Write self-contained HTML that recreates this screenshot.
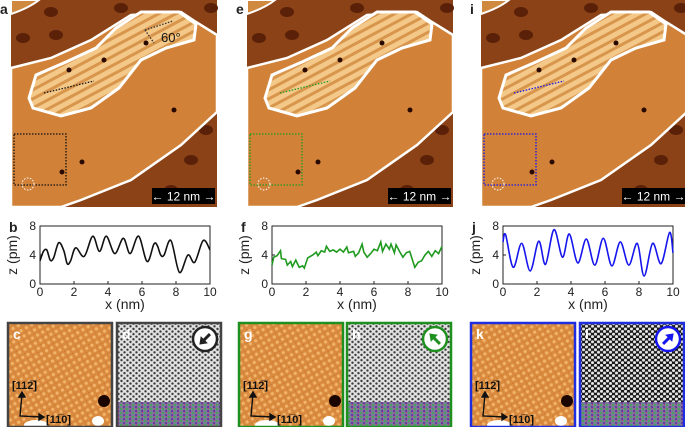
<!DOCTYPE html>
<html><head><meta charset="utf-8">
<style>
body{margin:0;background:#fff;width:685px;height:427px;overflow:hidden;font-family:"Liberation Sans",sans-serif;}
svg{position:absolute;left:0;top:0;}
</style></head>
<body>
<svg id="fig" width="685" height="427" viewBox="0 0 685 427">
<defs>
<pattern id="orangeLat" width="6" height="6" patternUnits="userSpaceOnUse" patternTransform="rotate(-30)">
<rect width="6" height="6" fill="#d98a3e"/><circle cx="3" cy="3" r="1.6" fill="#f2b46a"/><circle cx="0" cy="0" r="1" fill="#b86a28"/></pattern>
<pattern id="greyLat" width="6" height="5.2" patternUnits="userSpaceOnUse">
<rect width="6" height="5.2" fill="#e2e2e2"/><circle cx="1.5" cy="1.3" r="1.2" fill="#3a3a3a"/><circle cx="4.5" cy="3.9" r="1.2" fill="#3a3a3a"/></pattern>
<pattern id="darkLat" width="6" height="5.2" patternUnits="userSpaceOnUse">
<rect width="6" height="5.2" fill="#1a1a1a"/><circle cx="1.5" cy="1.3" r="1.5" fill="#e8e8e8"/><circle cx="4.5" cy="3.9" r="1.5" fill="#e8e8e8"/></pattern>
<pattern id="colorLat" width="6" height="4" patternUnits="userSpaceOnUse">
<rect width="6" height="4" fill="#7a7a9a"/><rect x="0" y="0" width="2" height="2" fill="#4aa05a"/><rect x="3" y="2" width="2" height="2" fill="#6a3aa0"/><rect x="4" y="0" width="1" height="1" fill="#c04060"/></pattern>
<pattern id="islandStripe" width="8" height="8" patternUnits="userSpaceOnUse" patternTransform="rotate(-28)">
<rect width="8" height="8" fill="#f3c888"/><rect width="8" height="3" fill="#d8954c"/></pattern>
</defs>
<g id="images"></g>
<g id="plots"></g>
<g id="insets"></g>
</svg>
<script>
const NS="http://www.w3.org/2000/svg";
const svg=document.getElementById('fig');
function mk(tag,attrs,parent){const e=document.createElementNS(NS,tag);for(const k in attrs)e.setAttribute(k,attrs[k]);(parent||svg).appendChild(e);return e;}

// ===== Line profile data (x in nm, z in pm) =====
const xTicks=[0,2,4,6,8,10];
const zTicks=[0,4,8];
const profileBX=[0,0.2,0.4,0.6,0.8,1.1,1.4,1.6,1.8,2.1,2.6,3.1,3.5,3.9,4.4,4.9,5.3,5.8,6.3,6.7,6.9,7.1,7.3,7.7,8.2,8.7,9.1,9.6,10];
const profileBZ=[3.2,4.5,4.7,3.3,3.6,5.7,4.6,2.8,3.2,5.0,3.8,6.6,4.5,6.6,4.2,6.3,4.2,6.6,3.1,5.5,5.3,4.0,4.0,6.0,1.6,4.0,3.0,6.0,4.7];
const profileFX=[0,0.1,0.3,0.5,0.55,0.8,0.9,1.1,1.2,1.4,1.6,1.8,1.9,2.1,2.4,2.6,2.7,2.9,3.1,3.2,3.4,3.6,3.8,4.0,4.2,4.4,4.5,4.8,4.9,5.1,5.3,5.4,5.6,5.8,6.0,6.2,6.4,6.5,6.7,6.9,7.0,7.2,7.3,7.5,7.7,7.9,8.1,8.4,8.6,8.8,9.0,9.2,9.4,9.6,9.8,10];
const profileFZ=[2.6,3.7,3.9,4.6,3.5,3.4,2.6,3.1,2.4,3.3,2.3,2.5,2.2,3.6,4.0,4.4,3.9,4.6,4.4,5.2,4.5,4.7,4.4,4.8,4.4,5.1,4.3,4.5,3.8,4.3,5.5,4.4,3.7,4.2,4.8,4.6,5.8,4.5,5.5,4.8,5.5,4.3,5.4,4.5,3.7,4.3,4.5,2.3,3.0,3.2,4.0,4.5,3.8,4.6,4.2,5.2];
const profileJX=[0,0.15,0.6,1.1,1.6,2.1,2.5,3.0,3.5,3.9,4.4,4.9,5.4,5.9,6.4,6.9,7.4,7.9,8.3,8.8,9.3,9.8,10];
const profileJZ=[5.8,6.8,2.3,5.6,1.8,5.9,2.7,7.5,3.7,6.9,2.9,6.2,2.6,6.3,2.5,5.8,2.6,5.6,1.1,5.6,2.8,7.1,4.3];

const panels=[
 {img:11,plot:40,letter:['a','b'],ins:[8,117],insL:['c','d'],lc:'#111',bc:'#444',xs:profileBX,zs:profileBZ,smooth:true,inset2:'greyLat',arrow:225,iconC:'#222'},
 {img:247,plot:272,letter:['e','f'],ins:[239,347],insL:['g','h'],lc:'#1f9a1f',bc:'#1f8f1f',xs:profileFX,zs:profileFZ,smooth:false,inset2:'greyLat',arrow:315,iconC:'#1f8f1f'},
 {img:481,plot:503,letter:['i','j'],ins:[471,580],insL:['k','l'],lc:'#1515ee',bc:'#1f2fe0',xs:profileJX,zs:profileJZ,smooth:true,inset2:'darkLat',arrow:45,iconC:'#1515ee'}
];

function smoothPath(pts){
 let d='M'+pts[0][0]+','+pts[0][1];
 for(let i=0;i<pts.length-1;i++){
  const p0=pts[i-1]||pts[i],p1=pts[i],p2=pts[i+1],p3=pts[i+2]||p2;
  const c1=[p1[0]+(p2[0]-p0[0])/6,p1[1]+(p2[1]-p0[1])/6];
  const c2=[p2[0]-(p3[0]-p1[0])/6,p2[1]-(p3[1]-p1[1])/6];
  d+=' C'+c1[0].toFixed(1)+','+c1[1].toFixed(1)+' '+c2[0].toFixed(1)+','+c2[1].toFixed(1)+' '+p2[0].toFixed(1)+','+p2[1].toFixed(1);
 }
 return d;
}

const gImg=document.getElementById('images');
const gPlot=document.getElementById('plots');
const gIns=document.getElementById('insets');

panels.forEach((P,pi)=>{
 const g=mk('g',{transform:'translate('+P.img+',0)'},gImg);
 
 
 mk('rect',{x:0,y:0,width:206,height:207,fill:'#8a4216'},g);
 [[12,38],[45,35],[22,85],[180,160],[160,190],[195,130],[40,12],[110,8],[200,8]].forEach(c=>mk('ellipse',{cx:c[0],cy:c[1],rx:7,ry:5,fill:'#5a2008'},g));
 mk('path',{d:'M0,0 L28,0 Q18,8 0,14 Z',fill:'#d08a40',stroke:'#fff','stroke-width':2},g);
 mk('path',{d:'M0,68 L40,58 L80,40 L120,15 L170,12 L185,22 L206,35 L206,112 L170,145 L120,180 L70,200 L50,207 L0,207 Z',fill:'#d18238',stroke:'#fff','stroke-width':2.5},g);
 mk('path',{d:'M18,98 L25,75 L55,62 L85,48 L105,28 L130,12 L168,12 L185,24 L183,40 L155,48 L130,60 L108,88 L80,108 L50,116 L22,108 Z',fill:'url(#islandStripe)',stroke:'#fff','stroke-width':3},g);
 mk('line',{x1:33,y1:93,x2:83,y2:81,stroke:P.lc,'stroke-width':1.3,'stroke-dasharray':'1.5,1.5'},g);
 [[58,70],[93,60],[163,110],[71,162],[51,172],[135,43]].forEach(c=>mk('circle',{cx:c[0],cy:c[1],r:2.5,fill:'#2a0a00'},g));
 const sq=mk('rect',{x:3,y:134,width:52,height:51,fill:'none',stroke:P.lc,'stroke-width':1.3,'stroke-dasharray':'1.5,1.5'},g);
 
 
 mk('circle',{cx:17,cy:184,r:6,fill:'none',stroke:'#fff','stroke-width':1,'stroke-dasharray':'1.5,1.5'},g);
 if(pi===0){
  mk('line',{x1:134,y1:30,x2:162,y2:21,stroke:'#333','stroke-width':1.3,'stroke-dasharray':'1.5,1.5'},g);
  mk('line',{x1:134,y1:30,x2:143,y2:43,stroke:'#333','stroke-width':1.3,'stroke-dasharray':'1.5,1.5'},g);
  const t=mk('text',{x:150,y:42,'font-size':13,fill:'#111'},g);t.textContent='60°';
 }
 const sb=mk('g',{},g);
 
 
 mk('rect',{x:141,y:188,width:63,height:16,fill:'#000'},sb);
 const st=mk('text',{x:172.5,y:200.5,'font-size':12,fill:'#fff','text-anchor':'middle'},sb);st.textContent='\u2190 12 nm \u2192';
 const lt=mk('text',{x:P.img-11,y:14,'font-size':14,'font-weight':'bold',fill:'#222'},gImg);lt.textContent=P.letter[0];
 
 

 const X0=P.plot,W=170,Y0=226,H=58;
 const xs=v=>X0+v/10*W, ys=v=>Y0+H-v/8*H;
 const pg=mk('g',{},gPlot);
 
 
 mk('rect',{x:X0,y:Y0,width:W,height:H,fill:'none',stroke:'#222','stroke-width':1},pg);
 xTicks.forEach(v=>{
  mk('line',{x1:xs(v),y1:Y0+H,x2:xs(v),y2:Y0+H-3,stroke:'#222'},pg);
  const t=mk('text',{x:xs(v),y:Y0+H+12,'font-size':12,'text-anchor':'middle',fill:'#222'},pg);t.textContent=v;
  
  
 });
 zTicks.forEach(v=>{
  mk('line',{x1:X0,y1:ys(v),x2:X0+3,y2:ys(v),stroke:'#222'},pg);
  const t=mk('text',{x:X0-4,y:ys(v)+4,'font-size':12,'text-anchor':'end',fill:'#222'},pg);t.textContent=v;
  
  
 });
 const xt=mk('text',{x:X0+W/2,y:Y0+H+25,'font-size':14,'text-anchor':'middle',fill:'#222'},pg);xt.textContent='x (nm)';
 
 
 const yt=mk('text',{x:0,y:0,'font-size':14,'text-anchor':'middle',fill:'#222',transform:'translate('+(X0-23)+','+(Y0+H/2)+') rotate(-90)'},pg);yt.textContent='z (pm)';
 
 
 const pts=P.xs.map((x,i)=>[xs(x),ys(P.zs[i])]);
 const d=P.smooth?smoothPath(pts):'M'+pts.map(p=>p[0].toFixed(1)+','+p[1].toFixed(1)).join(' L');
 const ln=mk('path',{d:d,fill:'none',stroke:P.lc,'stroke-width':1.6},pg);
 
 
 const pl=mk('text',{x:X0-31,y:Y0+6,'font-size':14,'font-weight':'bold',fill:'#222'},pg);pl.textContent=P.letter[1];

 const a=P.ins[0],b=P.ins[1],iy=323,s=104;
 const i1=mk('g',{},gIns);
 
 
 mk('rect',{x:a,y:iy,width:s,height:s,fill:'url(#orangeLat)'},i1);
 mk('ellipse',{cx:a+s-8,cy:iy+s-26,rx:6,ry:6,fill:'#1a0500'},i1);
 mk('ellipse',{cx:a+s-14,cy:iy+s-6,rx:6,ry:5,fill:'#fff'},i1);
 mk('ellipse',{cx:a+28,cy:iy+s-2,rx:12,ry:5,fill:'#fff'},i1);
 mk('rect',{x:a,y:iy,width:s,height:s,fill:'none',stroke:P.bc,'stroke-width':2.5},i1);
 const l1=mk('text',{x:a+5,y:iy+16,'font-size':14,'font-weight':'bold',fill:'#fff'},i1);l1.textContent=P.insL[0];
 const ax=mk('g',{stroke:'#111','stroke-width':1.4,fill:'none'},i1);
 mk('path',{d:'M'+(a+14)+','+(iy+s-33)+' L'+(a+12)+','+(iy+s-11)+' L'+(a+34)+','+(iy+s-10)},ax);
 mk('path',{d:'M'+(a+11)+','+(iy+s-30)+' L'+(a+14)+','+(iy+s-35)+' L'+(a+17)+','+(iy+s-30)+' Z',fill:'#111'},ax);
 mk('path',{d:'M'+(a+31)+','+(iy+s-13)+' L'+(a+36)+','+(iy+s-10)+' L'+(a+31)+','+(iy+s-7)+' Z',fill:'#111'},ax);
 const d1=mk('text',{x:a+4,y:iy+s-38,'font-size':11,'font-weight':'bold',fill:'#111'},i1);d1.textContent='[112\u0305]';
 const d2=mk('text',{x:a+38,y:iy+s-4,'font-size':11,'font-weight':'bold',fill:'#111'},i1);d2.textContent='[11\u03050]';

 const i2=mk('g',{},gIns);
 
 
 mk('rect',{x:b,y:iy,width:s,height:s,fill:'url(#'+P.inset2+')'},i2);
 mk('rect',{x:b,y:iy+79,width:s,height:25,fill:'url(#colorLat)'},i2);
 mk('rect',{x:b,y:iy,width:s,height:s,fill:'none',stroke:P.bc,'stroke-width':2.5},i2);
 const l2=mk('text',{x:b+5,y:iy+16,'font-size':14,'font-weight':'bold',fill:'#fff'},i2);l2.textContent=P.insL[1];
 const ic=mk('g',{transform:'translate('+(b+s-16)+','+(iy+16)+')'},i2);
 
 
 mk('circle',{cx:0,cy:0,r:12,fill:'#fff',stroke:P.iconC,'stroke-width':2.5},ic);
 const ar=mk('g',{transform:'rotate('+P.arrow+')'},ic);
 mk('line',{x1:0,y1:7,x2:0,y2:-2,stroke:P.iconC,'stroke-width':3},ar);
 mk('path',{d:'M-5,-1 L0,-8 L5,-1 Z',fill:P.iconC},ar);
});
</script>
</body></html>
